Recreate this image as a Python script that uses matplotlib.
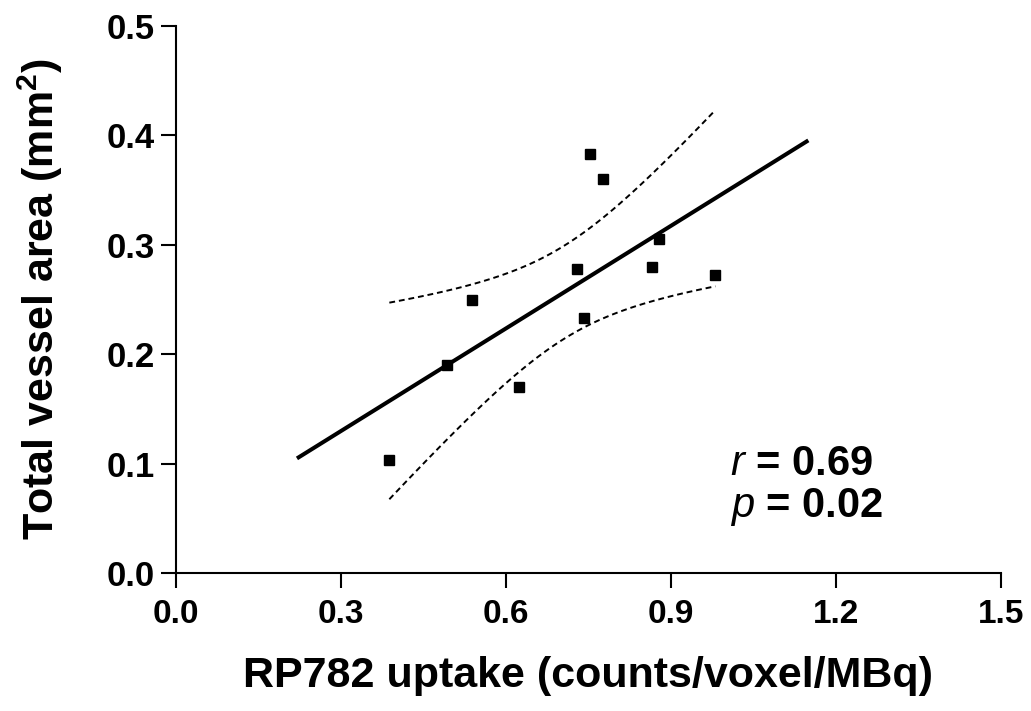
import numpy as np
import matplotlib
matplotlib.use("Agg")
import matplotlib.pyplot as plt

# data
uptake = [0.388, 0.492, 0.538, 0.624, 0.730, 0.742, 0.753, 0.776, 0.865, 0.878, 0.981]
vessel_area = [0.103, 0.190, 0.250, 0.170, 0.278, 0.233, 0.383, 0.360, 0.280, 0.305, 0.272]
fit_range = [0.22, 1.15]
t_crit = 2.262  # t(0.975, df=9)
x_ticks = [0.0, 0.3, 0.6, 0.9, 1.2, 1.5]
y_ticks = [0.0, 0.1, 0.2, 0.3, 0.4, 0.5]
stats_text = ['$r$ = 0.69', '$p$ = 0.02']

x = np.array(uptake)
y = np.array(vessel_area)
n = len(x)
slope, intercept = np.polyfit(x, y, 1)
resid = y - (slope * x + intercept)
s = np.sqrt(np.sum(resid ** 2) / (n - 2))
sxx = np.sum((x - x.mean()) ** 2)

xl = np.linspace(fit_range[0], fit_range[1], 50)
xb = np.linspace(x.min(), x.max(), 100)
yb = slope * xb + intercept
half = t_crit * s * np.sqrt(1 / n + (xb - x.mean()) ** 2 / sxx)

plt.rcParams['font.family'] = ['Liberation Sans', 'DejaVu Sans']
plt.rcParams['mathtext.fontset'] = 'custom'
plt.rcParams['mathtext.it'] = 'Liberation Sans:italic'
plt.rcParams['mathtext.rm'] = 'Liberation Sans'
plt.rcParams['mathtext.bf'] = 'Liberation Sans:bold'

fig = plt.figure(figsize=(10.31, 7.11), dpi=100)
ax = fig.add_axes([0.1707, 0.194, 0.800, 0.7694])

ax.plot(xl, slope * xl + intercept, color='black', lw=2.9, solid_capstyle='butt')
ax.plot(xb, yb + half, color='black', lw=1.4, ls=(0, (3, 2)))
ax.plot(xb, yb - half, color='black', lw=1.4, ls=(0, (3, 2)))
ax.plot(x, y, 's', color='black', markersize=7.5, ls='none')

ax.set_xlim(0, 1.5)
ax.set_ylim(0, 0.5)
ax.set_xticks(x_ticks)
ax.set_yticks(y_ticks)
ax.set_xticklabels([f"{v:.1f}" for v in x_ticks], fontsize=24, fontweight='bold')
ax.set_yticklabels([f"{v:.1f}" for v in y_ticks], fontsize=25, fontweight='bold')
for side in ['top', 'right']:
    ax.spines[side].set_visible(False)
for side in ['left', 'bottom']:
    ax.spines[side].set_linewidth(1.5)
ax.tick_params(axis='y', direction='out', length=11, width=1.5, pad=4)
ax.tick_params(axis='x', direction='out', length=11, width=1.5, pad=8)

ax.set_xlabel('RP782 uptake (counts/voxel/MBq)', fontsize=31, fontweight='bold')
ax.set_ylabel('Total vessel area (mm$^{\\mathbf{2}}$)', fontsize=31, fontweight='bold')
ax.xaxis.set_label_coords(0.5, -0.152)
ax.yaxis.set_label_coords(-0.135, 0.5)

ax.text(1.007, 0.090, stats_text[0], fontsize=30, fontweight='bold', va='baseline')
ax.text(1.007, 0.051, stats_text[1], fontsize=30, fontweight='bold', va='baseline')

fig.savefig('out.png', dpi=100)
